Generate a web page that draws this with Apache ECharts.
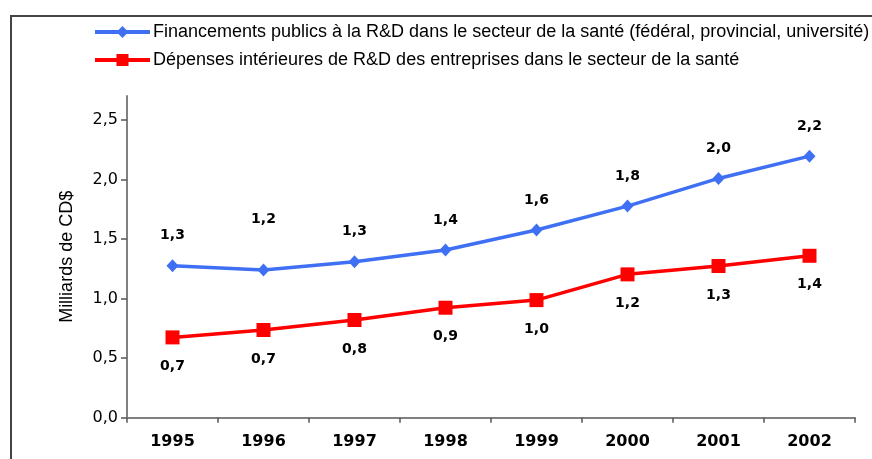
<!DOCTYPE html>
<html>
<head>
<meta charset="utf-8">
<script src="https://cdn.jsdelivr.net/npm/echarts@6/dist/echarts.min.js"></script>
<style>html,body{margin:0;padding:0;background:#fff}#c{width:872px;height:459px}</style>
</head>
<body>
<div id="c"></div>
<script>
const years = ['1995','1996','1997','1998','1999','2000','2001','2002'];
const publicFunding = [1.275, 1.239, 1.309, 1.407, 1.575, 1.776, 2.008, 2.195];
const businessSpending = [0.674, 0.736, 0.820, 0.923, 0.987, 1.203, 1.273, 1.359];
const yTicks = [0, 0.5, 1.0, 1.5, 2.0, 2.5];
const seriesNames = [
  'Financements publics à la R&D dans le secteur de la santé (fédéral, provincial, université)',
  'Dépenses intérieures de R&D des entreprises dans le secteur de la santé'
];
const yAxisTitle = 'Milliards de CD$';

const fmt = v => v.toFixed(1).replace('.', ',');
const chart = echarts.init(document.getElementById('c'));
const numFont = 'DejaVu Sans';
const txtFont = 'Liberation Sans';
const blue = '#3F70F4';
const red = '#FF0000';

chart.setOption({
  animation: false,
  backgroundColor: '#fff',
  graphic: [{
    type: 'rect', shape: {x: 11, y: 16, width: 900, height: 500},
    style: {fill: 'none', stroke: '#444', lineWidth: 2}, silent: true, z: -1
  }],
  legend: {
    orient: 'vertical', left: 93, top: 23, padding: 0, itemWidth: 55, itemHeight: 15, itemGap: 10,
    textStyle: {fontFamily: txtFont, fontSize: 18, color: '#000', padding: [0, 0, 0, -2]},
    data: [
      {name: seriesNames[0], lineStyle: {width: 4}},
      {name: seriesNames[1], lineStyle: {width: 4}}
    ]
  },
  grid: {left: 127, right: 17, top: 96, bottom: 41.3},
  xAxis: {
    type: 'category', data: years, boundaryGap: true,
    axisLine: {lineStyle: {color: '#808080', width: 2}},
    axisTick: {show: true, alignWithLabel: false, length: 5, lineStyle: {color: '#555', width: 1.5}},
    axisLabel: {fontFamily: numFont, fontWeight: 'bold', fontSize: 16, color: '#000', margin: 16}
  },
  yAxis: {
    type: 'value', min: 0, max: 2.7, interval: 0.5,
    name: yAxisTitle, nameLocation: 'middle', nameGap: 51, nameRotate: 90,
    nameTextStyle: {fontFamily: txtFont, fontSize: 18, color: '#000'},
    axisLine: {show: true, lineStyle: {color: '#808080', width: 2}},
    axisTick: {show: true, length: 6, customValues: yTicks, lineStyle: {color: '#555', width: 1.5}},
    axisLabel: {customValues: yTicks, formatter: v => fmt(v), fontFamily: numFont, fontSize: 16, color: '#000', margin: 9},
    splitLine: {show: false}
  },
  series: [
    {
      name: seriesNames[0], type: 'line', data: publicFunding.map((v, i) => i === 1 ? {value: v, label: {offset: [0, -51]}} : v),
      symbol: 'diamond', symbolSize: [12, 13],
      lineStyle: {color: blue, width: 3.5}, itemStyle: {color: blue},
      label: {show: true, position: 'inside', offset: [0, -30], formatter: p => fmt(p.value),
        fontFamily: numFont, fontWeight: 'bold', fontSize: 14, color: '#000'}
    },
    {
      name: seriesNames[1], type: 'line', data: businessSpending,
      symbol: 'rect', symbolSize: 14,
      lineStyle: {color: red, width: 3.5}, itemStyle: {color: red},
      label: {show: true, position: 'inside', offset: [0, 29], formatter: p => fmt(p.value),
        fontFamily: numFont, fontWeight: 'bold', fontSize: 14, color: '#000'}
    }
  ]
});
</script>
</body>
</html>
